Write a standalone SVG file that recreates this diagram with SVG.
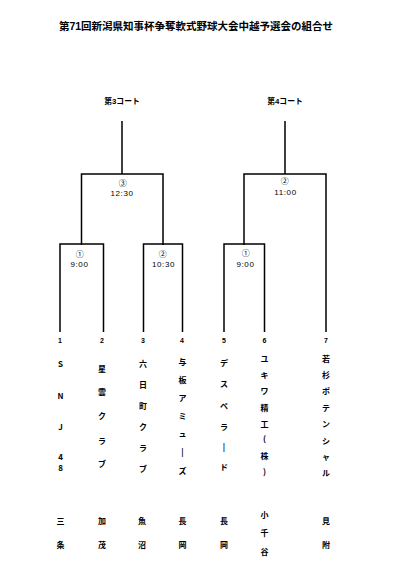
<svg xmlns="http://www.w3.org/2000/svg" width="408" height="580" viewBox="0 0 408 580">
<style>
text{font-family:"Liberation Sans","Noto Sans CJK JP",sans-serif;text-anchor:middle;dominant-baseline:central;fill:#000}
.title{font-size:10.5px;font-weight:bold}
.court{font-size:7.8px;font-weight:bold}
.time{font-size:8px;letter-spacing:0.6px}
.num{font-size:7px;font-weight:bold}
.team{font-size:8px;font-weight:bold;font-family:"Noto Sans CJK JP","Liberation Sans",sans-serif}
.line{fill:none;stroke:#000;stroke-width:1.5}
</style>
<rect width="408" height="580" fill="#fff"/>
<text class="title" x="196" y="26">第71回新潟県知事杯争奪軟式野球大会中越予選会の組合せ</text>
<g id="court3"><text class="court" x="122" y="101">第3コート</text></g>
<g id="court4"><text class="court" x="285" y="101">第4コート</text></g>
<g id="connectors">
<path class="line" d="M122,121 V174 M81.5,245 V174 H163 V245"/>
<path class="line" d="M60,332 V244 H103.5 V332"/>
<path class="line" d="M143.5,332 V244 H182.5 V332"/>
<path class="line" d="M285,121 V174 M244,245 V174 H326 V332"/>
<path class="line" d="M224,332 V244 H264.5 V332"/>
</g>
<g id="match-c3-3"><text class="time" x="123" y="183">③</text><text class="time" x="122" y="193.5">12:30</text></g>
<g id="match-c3-1"><text class="time" x="80" y="254">①</text><text class="time" x="79.5" y="264.5">9:00</text></g>
<g id="match-c3-2"><text class="time" x="163" y="254">②</text><text class="time" x="163.5" y="264.5">10:30</text></g>
<g id="match-c4-2"><text class="time" x="285" y="181">②</text><text class="time" x="285.5" y="192">11:00</text></g>
<g id="match-c4-1"><text class="time" x="246" y="253.5">①</text><text class="time" x="245.5" y="264.5">9:00</text></g>
<g id="team1">
<text class="num" x="60" y="340">1</text>
<text class="team" x="60.5" y="363">S</text><text class="team" x="60.5" y="395">N</text><text class="team" x="60.5" y="426">J</text><text class="team" x="60.5" y="456">4</text><text class="team" x="60.5" y="467">8</text>
<text class="team" x="60.5" y="520">三</text><text class="team" x="60.5" y="544">条</text>
</g>
<g id="team2">
<text class="num" x="102" y="340">2</text>
<text class="team" x="102" y="368">星</text><text class="team" x="102" y="391.5">雲</text><text class="team" x="102" y="415">ク</text><text class="team" x="102" y="440">ラ</text><text class="team" x="102" y="463">ブ</text>
<text class="team" x="102" y="520">加</text><text class="team" x="102" y="544">茂</text>
</g>
<g id="team3">
<text class="num" x="143" y="340">3</text>
<text class="team" x="143" y="363">六</text><text class="team" x="143" y="384">日</text><text class="team" x="143" y="405">町</text><text class="team" x="143" y="426">ク</text><text class="team" x="143" y="447.5">ラ</text><text class="team" x="143" y="468">ブ</text>
<text class="team" x="142" y="520">魚</text><text class="team" x="142" y="544">沼</text>
</g>
<g id="team4">
<text class="num" x="182" y="340">4</text>
<text class="team" x="182.5" y="361">与</text><text class="team" x="182.5" y="379">板</text><text class="team" x="182.5" y="397">ア</text><text class="team" x="182.5" y="415">ミ</text><text class="team" x="182.5" y="433">ュ</text><text class="team" x="182.5" y="451">|</text><text class="team" x="182.5" y="470.5">ズ</text>
<text class="team" x="182.5" y="520">長</text><text class="team" x="182.5" y="544">岡</text>
</g>
<g id="team5">
<text class="num" x="224" y="340">5</text>
<text class="team" x="224" y="362.5">デ</text><text class="team" x="224" y="383.5">ス</text><text class="team" x="224" y="405">ペ</text><text class="team" x="224" y="426">ラ</text><text class="team" x="224" y="446">|</text><text class="team" x="224" y="466.5">ド</text>
<text class="team" x="224" y="520">長</text><text class="team" x="224" y="544">岡</text>
</g>
<g id="team6">
<text class="num" x="264.5" y="340">6</text>
<text class="team" x="264.5" y="358">ユ</text><text class="team" x="264.5" y="374.5">キ</text><text class="team" x="264.5" y="390.5">ワ</text><text class="team" x="264.5" y="407">精</text><text class="team" x="264.5" y="423">工</text><text class="team" x="264.5" y="438.5">(</text><text class="team" x="264.5" y="455">株</text><text class="team" x="264.5" y="471.5">)</text>
<text class="team" x="264.5" y="514">小</text><text class="team" x="264.5" y="532.5">千</text><text class="team" x="264.5" y="551">谷</text>
</g>
<g id="team7">
<text class="num" x="326" y="340">7</text>
<text class="team" x="326" y="358">若</text><text class="team" x="326" y="374">杉</text><text class="team" x="326" y="390.5">ポ</text><text class="team" x="326" y="407">テ</text><text class="team" x="326" y="423">ン</text><text class="team" x="326" y="440">シ</text><text class="team" x="326" y="456">ャ</text><text class="team" x="326" y="472.5">ル</text>
<text class="team" x="326" y="520.5">見</text><text class="team" x="326" y="544">附</text>
</g>
</svg>
